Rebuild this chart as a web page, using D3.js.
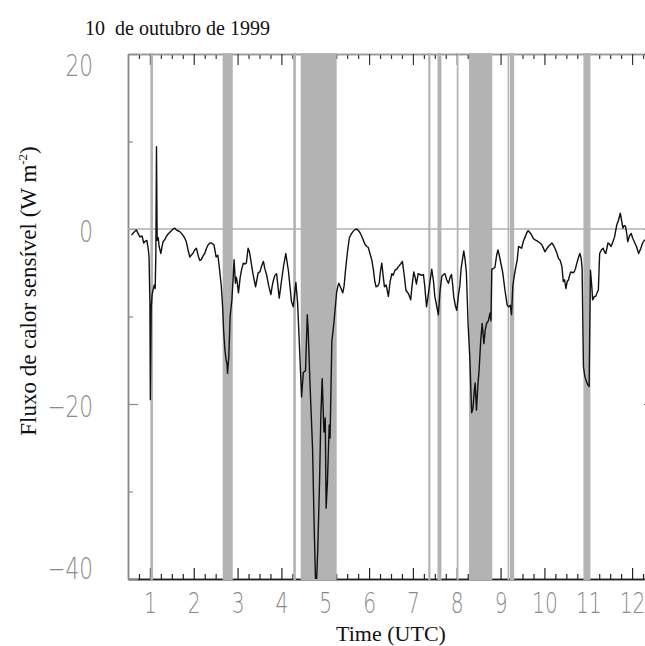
<!DOCTYPE html>
<html>
<head>
<meta charset="utf-8">
<script src="https://cdn.jsdelivr.net/npm/d3@7"></script>
<style>
  body { margin: 0; background: #fff; }
  svg { display: block; }
  .tick-lab { font-family: "DejaVu Sans", sans-serif; font-weight: 200; fill: #8a8a8a; }
  .serif { font-family: "Liberation Serif", "DejaVu Serif", serif; fill: #111; }
</style>
</head>
<body>
<div id="chart"></div>
<script>
// sensible heat flux, 10 Oct 1999 (hours UTC / W m-2)
const hours = [0.58,0.63,0.69,0.73,0.77,0.82,0.86,0.88,0.93,0.96,0.98,1.00,1.01,1.03,1.05,1.07,1.10,1.12,1.135,1.15,1.165,1.19,1.21,1.25,1.28,1.30,1.34,1.37,1.41,1.45,1.49,1.53,1.57,1.60,1.64,1.68,1.72,1.75,1.79,1.83,1.87,1.91,1.94,1.98,2.02,2.06,2.09,2.11,2.14,2.17,2.21,2.25,2.29,2.33,2.37,2.40,2.43,2.46,2.49,2.51,2.55,2.57,2.59,2.63,2.66,2.68,2.71,2.74,2.76,2.77,2.80,2.83,2.87,2.90,2.92,2.95,2.97,2.99,3.02,3.06,3.09,3.13,3.17,3.20,3.24,3.27,3.30,3.35,3.41,3.44,3.47,3.51,3.55,3.59,3.62,3.66,3.71,3.76,3.79,3.82,3.85,3.89,3.92,3.95,3.98,4.00,4.05,4.10,4.13,4.16,4.20,4.23,4.27,4.30,4.33,4.37,4.42,4.46,4.50,4.55,4.59,4.61,4.65,4.71,4.75,4.78,4.80,4.83,4.87,4.90,4.93,4.97,5.00,5.02,5.05,5.09,5.11,5.15,5.20,5.26,5.29,5.31,5.36,5.40,5.43,5.47,5.51,5.55,5.59,5.63,5.67,5.72,5.76,5.79,5.83,5.87,5.91,5.95,5.98,6.02,6.06,6.10,6.13,6.16,6.20,6.23,6.26,6.29,6.32,6.35,6.39,6.44,6.48,6.52,6.55,6.59,6.63,6.67,6.72,6.76,6.80,6.84,6.90,6.95,6.98,7.02,7.05,7.08,7.12,7.16,7.20,7.24,7.27,7.31,7.35,7.39,7.43,7.47,7.50,7.55,7.58,7.62,7.66,7.70,7.73,7.77,7.81,7.85,7.88,7.91,7.93,7.97,8.00,8.04,8.07,8.10,8.13,8.16,8.19,8.22,8.26,8.30,8.34,8.37,8.40,8.42,8.45,8.48,8.51,8.55,8.58,8.62,8.65,8.68,8.72,8.76,8.78,8.80,8.84,8.87,8.91,8.94,8.97,9.01,9.05,9.10,9.15,9.18,9.22,9.25,9.28,9.31,9.35,9.38,9.41,9.45,9.48,9.52,9.56,9.60,9.63,9.67,9.71,9.75,9.79,9.83,9.86,9.90,9.94,9.97,10.01,10.05,10.09,10.13,10.17,10.21,10.24,10.28,10.32,10.36,10.40,10.43,10.46,10.49,10.52,10.55,10.58,10.60,10.64,10.68,10.71,10.74,10.78,10.81,10.84,10.86,10.89,10.92,10.95,10.99,11.02,11.05,11.08,11.10,11.14,11.17,11.20,11.23,11.26,11.30,11.34,11.37,11.40,11.45,11.48,11.52,11.56,11.60,11.65,11.69,11.73,11.76,11.79,11.82,11.85,11.88,11.90,11.94,11.98,12.01,12.05,12.10,12.15,12.20,12.24,12.29];
const flux = [-0.7,-0.4,-0.1,-0.5,-0.9,-0.8,-1.6,-1.45,-1.3,-2.2,-3.2,-8.5,-19.5,-8.9,-7.5,-7.0,-6.4,-6.8,-3,9.4,-1.3,-1.0,-2.0,-2.8,-1.9,-1.45,-1.2,-0.9,-0.6,-0.4,-0.2,0,0.1,-0.1,-0.2,-0.3,-0.5,-0.7,-1.0,-1.45,-2.4,-3.2,-3.0,-2.8,-2.4,-2.2,-2.8,-3.2,-3.6,-3.5,-3.1,-2.8,-2.2,-1.8,-1.6,-1.6,-1.7,-1.8,-2.6,-3.2,-3.0,-3.8,-4.7,-6.6,-9,-11.5,-13.8,-15,-15.5,-16.5,-14.6,-10,-8.1,-5.5,-3.5,-6.2,-5.5,-6,-7.3,-5.5,-4.7,-3.9,-4.0,-3.9,-2.2,-2.6,-3.5,-5.1,-6.6,-5.8,-5.0,-4.9,-4.2,-3.7,-4.5,-5.2,-6.5,-7.5,-6.5,-5.8,-5.3,-5.1,-6.5,-7.9,-6.8,-6,-4.2,-2.8,-3.8,-4.8,-6.8,-8.3,-8.9,-7.5,-6.1,-8.5,-14.4,-19.2,-16.4,-16.2,-9.8,-11.5,-17.4,-25,-34.6,-40.5,-40.5,-36.5,-28.9,-21.3,-17.1,-23.2,-21.6,-31.9,-28.9,-22.4,-23.9,-12.9,-10.6,-7.2,-6.5,-6.2,-6.8,-7.3,-6.5,-4.3,-2.5,-1.0,-0.6,-0.3,-0.1,0,-0.2,-0.4,-0.8,-1.3,-1.8,-2.0,-2.1,-2.8,-3.5,-4.7,-6.0,-6.6,-6.5,-6.2,-4.8,-3.9,-5.3,-6.6,-6.4,-7.7,-6.0,-5.1,-5.3,-4.7,-4.6,-4.3,-4.0,-3.7,-5.2,-7,-7.4,-8.1,-6.5,-4.9,-5.5,-6.3,-5.1,-5.2,-5.3,-5.2,-6.5,-8.9,-7.5,-6.0,-4.6,-6.0,-7.7,-9.0,-9.8,-7.0,-5.4,-5.2,-5.1,-5.8,-6.2,-5.5,-5.2,-6.5,-7.7,-8.8,-9.3,-7.5,-6.5,-4.5,-3.5,-2.5,-3.5,-5.0,-11,-15,-21,-20.5,-18.5,-17.6,-20.7,-18,-16.1,-12.5,-10.8,-13.1,-11.5,-10.8,-10.5,-9.6,-10.5,-4.6,-4.5,-4.4,-3.0,-2.4,-3.0,-4.0,-5.0,-7.0,-8.7,-8.9,-8.7,-9.8,-6.5,-5.4,-4.3,-3.5,-2.0,-2.1,-2.2,-1.4,-0.9,-0.4,-0.2,-0.4,-0.7,-1.1,-1.25,-1.35,-1.45,-1.6,-1.8,-2.1,-2.6,-2.3,-2.0,-1.8,-1.6,-1.9,-2.2,-2.7,-3.35,-3.6,-4.3,-6.0,-5.8,-6.8,-6.0,-5.8,-5.2,-4.9,-5.0,-4.9,-4.5,-3.9,-3.2,-2.8,-3.4,-4.5,-15.7,-16.8,-17.3,-17.8,-18,-4.7,-6.5,-8.1,-7.7,-7.7,-7.3,-7,-2.8,-2.4,-2.2,-2.6,-2.8,-1.6,-1.7,-2.0,-1.5,-0.9,0.45,1.0,1.8,1.0,0.1,0.4,0.3,-0.6,-1.45,-0.8,-0.5,-1.0,-1.45,-2.0,-2.8,-2.2,-1.6,-1.2];

// shaded (flagged) intervals
const bandStart = [1.01, 2.66, 4.27, 4.44, 7.35, 7.56, 8.00, 8.28, 9.16, 9.21, 10.89];
const bandEnd   = [1.07, 2.89, 4.33, 5.26, 7.40, 7.65, 8.04, 8.81, 9.19, 9.31, 11.05];

const xMajor = d3.range(1, 13);
const xMinor = d3.range(0.75, 12.5, 0.25).filter(v => Math.abs(v - Math.round(v)) > 0.01);
const yMajor = [20, 0, -20, -40];
const yMinor = [10, -10, -30];

const width = 645, height = 646;
const mLeft = 128, mRight = 654, mTop = 54, mBottom = 579;
const squeeze = 0.72; // tick labels are narrow in the original

const x = d3.scaleLinear().domain([0.5, 12.5]).range([mLeft, mRight]);
const y = d3.scaleLinear().domain([-40, 20]).range([mBottom, mTop]);

const svg = d3.select('#chart').append('svg')
  .attr('width', width).attr('height', height);

// axes
const gBottom = svg.append('g').attr('transform', `translate(0,${mBottom})`);
gBottom.call(d3.axisBottom(x).tickValues(xMinor).tickSize(-5).tickSizeOuter(0).tickFormat(''));
gBottom.append('g').call(d3.axisBottom(x).tickValues(xMajor).tickSize(-11).tickSizeOuter(0).tickPadding(14).tickFormat(d3.format('d')));
gBottom.selectAll('path.domain').attr('stroke', '#222').attr('stroke-width', 1.6);
gBottom.selectAll('.tick line').attr('stroke', '#222').attr('stroke-width', 1.2);
gBottom.selectAll('.tick text').attr('class', 'tick-lab').attr('font-size', 28).attr('fill', '#8a8a8a')
  .attr('transform', `scale(${squeeze},1)`);

const gTop = svg.append('g').attr('transform', `translate(0,${mTop})`);
gTop.call(d3.axisTop(x).tickValues(xMinor).tickSize(-5).tickSizeOuter(0).tickFormat(''));
gTop.append('g').call(d3.axisTop(x).tickValues(xMajor).tickSize(-11).tickSizeOuter(0).tickFormat(''));
gTop.selectAll('path.domain').attr('stroke', '#999').attr('stroke-width', 1.5);
gTop.selectAll('.tick line').attr('stroke', '#333').attr('stroke-width', 1.2);

const gLeft = svg.append('g').attr('transform', `translate(${mLeft},0)`);
gLeft.call(d3.axisLeft(y).tickValues(yMinor).tickSize(-5).tickSizeOuter(0).tickFormat(''));
gLeft.append('g').call(d3.axisLeft(y).tickValues(yMajor).tickSize(-10).tickSizeOuter(0)
  .tickFormat(d => d < 0 ? '\u2212' + Math.abs(d) : d));
gLeft.selectAll('path.domain').attr('stroke', '#8a8a8a').attr('stroke-width', 1.5);
gLeft.selectAll('.tick line').attr('stroke', '#8a8a8a').attr('stroke-width', 1.2);
gLeft.selectAll('.tick text').attr('class', 'tick-lab').attr('font-size', 30).attr('fill', '#8a8a8a')
  .attr('dy', null).attr('dominant-baseline', 'central')
  .attr('x', -35 / squeeze)
  .attr('transform', `scale(${squeeze},1)`)
  // keep the end labels inside the frame, like the original plot
  .attr('y', d => Math.min(Math.max(y(d) + 2, mTop + 11), mBottom - 11) - y(d));

const gRight = svg.append('g').attr('transform', `translate(${mRight},0)`);
gRight.call(d3.axisRight(y).tickValues(yMajor).tickSize(-10).tickSizeOuter(0).tickFormat(''));
gRight.selectAll('path.domain').attr('stroke', '#8a8a8a');
gRight.selectAll('.tick line').attr('stroke', '#555').attr('stroke-width', 1.2);

// shaded bands sit on top of the frame
svg.append('g').selectAll('rect')
  .data(d3.range(bandStart.length))
  .join('rect')
  .attr('x', i => x(bandStart[i]))
  .attr('width', i => Math.max(1.5, x(bandEnd[i]) - x(bandStart[i])))
  .attr('y', mTop - 1)
  .attr('height', mBottom - mTop + 2)
  .attr('fill', '#b3b3b3');

// zero line
svg.append('line')
  .attr('x1', mLeft).attr('x2', mRight)
  .attr('y1', y(0)).attr('y2', y(0))
  .attr('stroke', '#b0b0b0').attr('stroke-width', 1.6);

svg.append('clipPath').attr('id', 'plot-clip')
  .append('rect').attr('x', mLeft).attr('y', mTop).attr('width', mRight - mLeft).attr('height', mBottom - mTop);

const line = d3.line()
  .x((d, i) => x(hours[i]))
  .y((d, i) => y(flux[i]));

svg.append('path')
  .datum(flux)
  .attr('clip-path', 'url(#plot-clip)')
  .attr('d', line)
  .attr('fill', 'none')
  .attr('stroke', '#111')
  .attr('stroke-width', 1.4)
  .attr('stroke-linejoin', 'round');

// texts
svg.append('text').attr('class', 'serif')
  .attr('x', 85).attr('y', 35)
  .attr('font-size', 20)
  .attr('xml:space', 'preserve')
  .text('10  de outubro de 1999');

svg.append('text').attr('class', 'serif')
  .attr('x', 391).attr('y', 641)
  .attr('text-anchor', 'middle')
  .attr('font-size', 22)
  .text('Time (UTC)');

const yl = svg.append('text').attr('class', 'serif')
  .attr('transform', 'translate(36,291) rotate(-90)')
  .attr('text-anchor', 'middle')
  .attr('font-size', 23);
yl.append('tspan').text('Fluxo de calor sensível (W m');
yl.append('tspan').attr('font-size', 13).attr('dy', -9).text('-2');
yl.append('tspan').attr('dy', 9).text(')');
</script>
</body>
</html>
